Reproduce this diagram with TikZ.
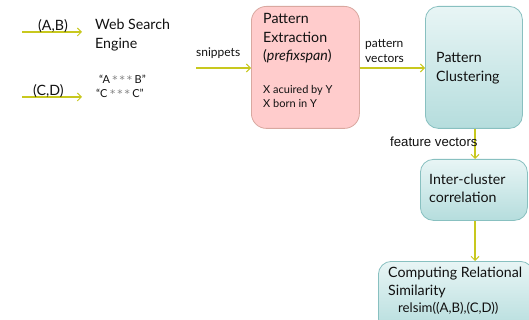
\documentclass[tikz,border=0pt]{standalone}
\usepackage{fontspec}
\setmainfont{Lato}
\newfontfamily\arialf{Liberation Sans}
\newfontfamily\dvf{DejaVu Sans}
\usetikzlibrary{arrows.meta}
\definecolor{arrc}{HTML}{C8C81E}
\definecolor{pinkfill}{HTML}{FFCCCC}
\definecolor{pinkdraw}{HTML}{D9A8A0}
\definecolor{tealtop}{HTML}{E8F5F5}
\definecolor{tealbot}{HTML}{B5DDDD}
\definecolor{tealdraw}{HTML}{88C0C0}
\definecolor{txt}{HTML}{111111}
\newcommand{\stars}{\hspace{2.5pt}{\color{gray}\dvf\fontsize{10.5}{12}\selectfont *\hspace{2pt}*\hspace{2pt}*}\hspace{2.5pt}}
\begin{document}
\begin{tikzpicture}[x=1pt,y=-1pt,
  arr/.style={draw=arrc,line width=1.3pt,-{Straight Barb[length=4pt,width=8pt,line width=1pt]}},
  lbl/.style={inner sep=0pt,anchor=base west,text=txt},
  pinkbox/.style={draw=pinkdraw,fill=pinkfill,rounded corners=15pt,line width=0.8pt,anchor=north west,inner sep=0pt},
  tealbox/.style={draw=tealdraw,top color=tealtop,bottom color=tealbot,rounded corners=13pt,line width=0.8pt,anchor=north west,inner sep=0pt},
  big/.style={font=\fontsize{14.2}{18}\selectfont},
  mid/.style={font=\fontsize{12}{15}\selectfont},
  small/.style={font=\fontsize{11}{15}\selectfont}]
\useasboundingbox (0,0) rectangle (529,320);
\clip (0,0) rectangle (529,320);
\fill[white] (0,0) rectangle (529,320);

% inputs
\coordinate (ab0) at (22,32);
\coordinate (ab1) at (82,32);
\draw[arr] (ab0) -- (ab1);
\node[lbl,big] (abl) at (38,31) {(A,B)};
\coordinate (cd0) at (22,97);
\coordinate (cd1) at (82,97);
\draw[arr] (cd0) -- (cd1);
\node[lbl,big] (cdl) at (33,96) {(C,D)};

\node[lbl,big] (wse1) at (95,30) {Web Search};
\node[lbl,big] (wse2) at (95,49) {Engine};
\node[lbl,small] (q1) at (99,84) {“A\stars B”};
\node[lbl,small] (q2) at (96,98) {“C\stars C”};

% pattern extraction
\node[pinkbox,minimum width=108pt,minimum height=122pt] (pe) at (251,6) {};
\node[lbl,big] (pe1) at (263,24) {Pattern};
\node[lbl,big] (pe2) at (263,43) {Extraction};
\node[lbl,big] (pe3) at (263,61) {(\textit{prefixspan})};
\node[lbl,small] (pe4) at (263,94) {X acuired by Y};
\node[lbl,small] (pe5) at (263,108) {X born in Y};

\node[lbl,mid] (snip) at (196,57) {snippets};
\coordinate (sn0) at (196,68);
\draw[arr] (sn0) -- (sn0 -| pe.west);

% pattern clustering
\node[tealbox,minimum width=97pt,minimum height=122pt] (pc) at (425,6) {};
\node[lbl,big] (pc1) at (436,63) {Pattern};
\node[lbl,big] (pc2) at (436,82) {Clustering};
\node[lbl,mid] (pv1) at (365,48) {pattern};
\node[lbl,mid] (pv2) at (365,63) {vectors};
\coordinate (pv0) at (pe.east |- 0,68);
\draw[arr] (pv0) -- (pv0 -| pc.west);

% inter-cluster
\node[tealbox,minimum width=107pt,minimum height=61pt] (ic) at (420,159) {};
\node[lbl,big] (ic1) at (429,185) {Inter-cluster};
\node[lbl,big] (ic2) at (429,203) {correlation};
\coordinate (fv0) at (475,0);
\draw[arr] (fv0 |- pc.south) -- (fv0 |- ic.north);
\node[lbl,font=\arialf\fontsize{13.2}{15}\selectfont] (fvl) at (390,147) {feature vectors};

% computing
\node[tealbox,minimum width=155pt,minimum height=70pt] (cr) at (378,261) {};
\node[lbl,big] (cr1) at (388,277) {Computing Relational};
\node[lbl,big] (cr2) at (388,295) {Similarity};
\node[lbl,font=\fontsize{13.2}{15}\selectfont] (crs) at (398,312) {relsim((A,B),(C,D))};
\draw[arr] (fv0 |- ic.south) -- (fv0 |- cr.north);
\end{tikzpicture}
\end{document}
